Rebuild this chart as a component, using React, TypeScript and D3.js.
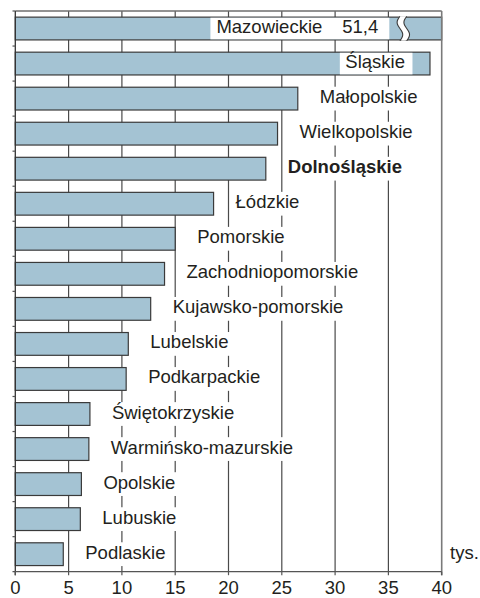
import React from "react";
import * as d3 from "d3";

const names = [
  "Mazowieckie",
  "Śląskie",
  "Małopolskie",
  "Wielkopolskie",
  "Dolnośląskie",
  "Łódzkie",
  "Pomorskie",
  "Zachodniopomorskie",
  "Kujawsko-pomorskie",
  "Lubelskie",
  "Podkarpackie",
  "Świętokrzyskie",
  "Warmińsko-mazurskie",
  "Opolskie",
  "Lubuskie",
  "Podlaskie",
];
const values = [51.4, 38.9, 26.5, 24.6, 23.5, 18.6, 15.0, 14.0, 12.7, 10.6, 10.4, 7.0, 6.9, 6.2, 6.1, 4.5];
const xTicks = [0, 5, 10, 15, 20, 25, 30, 35, 40];
const highlighted = "Dolnośląskie";
const unitLabel = "tys.";
const axisMax = 40;
const breakAt = 36.4;

const W = 480;
const H = 598;
const FONT = "'Liberation Sans', Arial, sans-serif";
const FS = 18.5;
const TEXT = "#231f20";
const BAR = "#a4c3d3";

let ctx: CanvasRenderingContext2D | null = null;
function measure(t: string, bold = false) {
  if (!ctx) ctx = document.createElement("canvas").getContext("2d");
  if (!ctx) return t.length * 9;
  ctx.font = `${bold ? "bold " : ""}${FS}px ${FONT}`;
  return ctx.measureText(t).width;
}

export default function App() {
  const x = d3.scaleLinear().domain([0, axisMax]).range([15.3, 441.7]);
  const y = d3
    .scaleBand<string>()
    .domain(names)
    .range([11, 571.7])
    .paddingInner(0.35)
    .paddingOuter(0.175);
  const bw = y.bandwidth();
  const step = y.step();
  const top = 11;
  const bottom = 571.7;
  const fmt = (v: number) => String(v).replace(".", ",");

  const waveLine = d3.line<[number, number]>().curve(d3.curveBasis);
  const wavePts = (x0: number, y0: number, y1: number): [number, number][] =>
    d3.range(0, 1.0001, 0.1).map((t) => [x0 - 3 * Math.sin(2 * Math.PI * t), y0 + (y1 - y0) * t] as [number, number]);

  const gridEls = xTicks
    .filter((t) => t > 0 && t < axisMax)
    .map((t) => (
      <line key={"g" + t} x1={x(t)} x2={x(t)} y1={top} y2={bottom} stroke="#4a4a4a" strokeWidth={1.2} />
    ));

  const barEls: React.ReactNode[] = [];
  const labelEls: React.ReactNode[] = [];

  names.forEach((n, i) => {
    const v = values[i];
    const y0 = y(n)!;
    const cy = y0 + bw / 2;
    const base = cy + 4.5;
    const bold = n === highlighted;
    const vEnd = x(Math.min(v, axisMax));
    barEls.push(
      <rect key={"b" + n} x={x(0)} y={y0} width={vEnd - x(0)} height={bw} fill={BAR} stroke="#3a3a3a" strokeWidth={1.2} />
    );
    if (v > axisMax) {
      const bx = x(breakAt);
      const gap = 3.4;
      const l = wavePts(bx - gap, y0 - 0.8, y0 + bw + 0.8);
      const r = wavePts(bx + gap, y0 - 0.8, y0 + bw + 0.8);
      const fillPts = [...l, ...r.slice().reverse()];
      barEls.push(
        <g key={"brk" + n}>
          <path d={waveLine(fillPts)! + "Z"} fill="#fff" stroke="none" />
          <path d={waveLine(l)!} fill="none" stroke="#3a3a3a" strokeWidth={1.1} />
          <path d={waveLine(r)!} fill="none" stroke="#3a3a3a" strokeWidth={1.1} />
        </g>
      );
      const valStr = fmt(v);
      const valEnd = bx - 25;
      const valW = measure(valStr);
      const nameEnd = valEnd - valW - 20;
      const nameW = measure(n, bold);
      const bx0 = nameEnd - nameW - 6;
      labelEls.push(
        <g key={"l" + n}>
          <rect x={bx0} y={y0 + 0.6} width={bx - 14 - bx0} height={bw - 1.2} fill="#fff" />
          <text x={nameEnd} y={base} textAnchor="end" fontWeight={bold ? "bold" : "normal"}>{n}</text>
          <text x={valEnd} y={base} textAnchor="end">{valStr}</text>
        </g>
      );
    } else if (v > 30) {
      const w = measure(n, bold);
      const end = vEnd - 25;
      labelEls.push(
        <g key={"l" + n}>
          <rect x={end - w - 5.5} y={y0 + 0.6} width={w + 13} height={bw - 1.2} fill="#fff" />
          <text x={end} y={base} textAnchor="end" fontWeight={bold ? "bold" : "normal"}>{n}</text>
        </g>
      );
    } else {
      const w = measure(n, bold);
      const start = vEnd + 22;
      labelEls.push(
        <g key={"l" + n}>
          <rect x={start - 3} y={y0 - 0.5} width={w + 6} height={bw + 1} fill="#fff" />
          <text x={start} y={base} fontWeight={bold ? "bold" : "normal"}>{n}</text>
        </g>
      );
    }
  });

  const leftTicks = d3.range(0, names.length).map((i) => (
    <line key={"lt" + i} x1={12.5} x2={x(0)} y1={top + i * step} y2={top + i * step} stroke="#555" strokeWidth={1.2} />
  ));

  const lastCy = y(names[names.length - 1])! + bw / 2;

  return (
    <svg
      width={W}
      height={H}
      style={{ position: "absolute", left: 0, top: 0, background: "#fff" }}
      fontFamily={FONT}
      fontSize={FS}
      fill={TEXT}
    >
      <rect x={0} y={0} width={W} height={H} fill="#fff" />
      {gridEls}
      {barEls}
      {labelEls}
      <line x1={x(0)} x2={x(axisMax)} y1={top} y2={top} stroke="#6e6e6e" strokeWidth={1.6} />
      <line x1={x(axisMax)} x2={x(axisMax)} y1={top} y2={bottom + 3.5} stroke="#7a7a7a" strokeWidth={1.6} />
      <line x1={x(0)} x2={x(0)} y1={top} y2={bottom + 3.5} stroke="#333" strokeWidth={1.3} />
      {leftTicks}
      <line x1={12.5} x2={x(axisMax)} y1={bottom} y2={bottom} stroke="#555" strokeWidth={1.3} />
      {xTicks.map((t) => (
        <g key={"xt" + t}>
          <line x1={x(t)} x2={x(t)} y1={bottom} y2={bottom + 3.5} stroke="#555" strokeWidth={1.2} />
          <text x={x(t)} y={594} textAnchor="middle">{t}</text>
        </g>
      ))}
      <text x={450} y={lastCy + 4.5}>{unitLabel}</text>
    </svg>
  );
}
